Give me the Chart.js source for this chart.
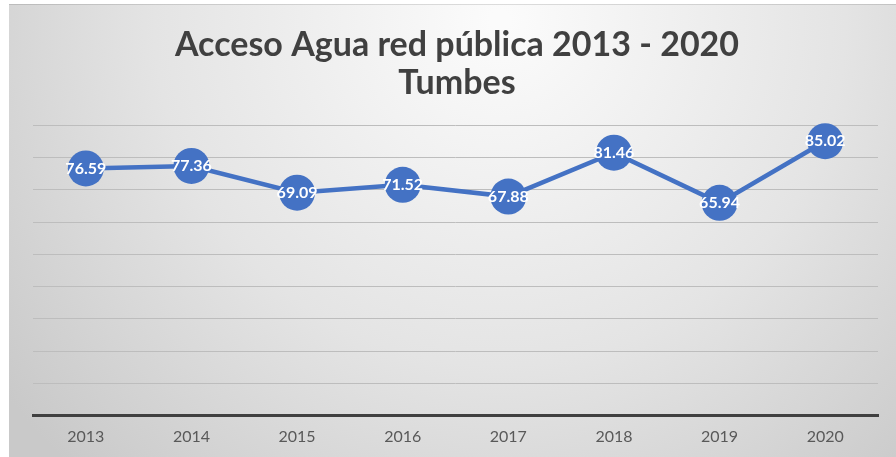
<!DOCTYPE html>
<html>
<head>
<meta charset="utf-8">
<script src="https://cdn.jsdelivr.net/npm/chart.js@4/dist/chart.umd.min.js"></script>
<style>
  html, body { margin: 0; padding: 0; background: #ffffff; }
  #wrap { width: 896px; height: 457px; position: relative; }
</style>
</head>
<body>
<div id="wrap"><canvas id="chart" width="896" height="457"></canvas></div>
<script>
// Años y porcentaje de hogares con acceso a agua por red pública (Tumbes)
const years = ["2013", "2014", "2015", "2016", "2017", "2018", "2019", "2020"];
const acceso = [76.59, 77.36, 69.09, 71.52, 67.88, 81.46, 65.94, 85.02];
const titleLines = ["Acceso Agua red pública 2013 - 2020", "Tumbes"];

const BLUE = "#4472C4";

// Fondo con degradado gris claro detrás de todo el gráfico
const backgroundPlugin = {
  id: "panelBackground",
  beforeDraw(chart) {
    const ctx = chart.ctx;
    const w = chart.width, h = chart.height;
    ctx.save();
    ctx.fillStyle = "#ffffff";
    ctx.fillRect(0, 0, w, h);
    const g = ctx.createRadialGradient(500, 20, 10, 500, 20, 620);
    g.addColorStop(0, "#fbfbfb");
    g.addColorStop(0.55, "#e4e4e4");
    g.addColorStop(1, "#c9c9c9");
    ctx.fillStyle = g;
    ctx.fillRect(9, 4, w - 9, h - 4);
    ctx.fillStyle = "rgba(0,0,0,0.12)";
    ctx.fillRect(9, 4, w - 9, 1);
    ctx.restore();
  }
};

// Etiquetas de valor en blanco, centradas sobre cada marcador
const valueLabels = {
  id: "valueLabels",
  afterDatasetsDraw(chart) {
    const ctx = chart.ctx;
    const meta = chart.getDatasetMeta(0);
    const values = chart.data.datasets[0].data;
    ctx.save();
    ctx.font = "bold 16px Lato";
    ctx.fillStyle = "#ffffff";
    ctx.textAlign = "center";
    ctx.textBaseline = "middle";
    meta.data.forEach((pt, i) => {
      ctx.fillText(values[i].toFixed(2), pt.x, pt.y);
    });
    ctx.restore();
  }
};

new Chart(document.getElementById("chart"), {
  type: "line",
  data: {
    labels: years,
    datasets: [{
      data: acceso,
      borderColor: BLUE,
      borderWidth: 4.5,
      backgroundColor: BLUE,
      pointBackgroundColor: BLUE,
      pointBorderWidth: 0,
      pointRadius: 18,
      tension: 0,
      clip: false
    }]
  },
  options: {
    responsive: false,
    animation: false,
    devicePixelRatio: 1,
    layout: { padding: { left: 33, right: 15, top: 4, bottom: 0 } },
    plugins: {
      legend: { display: false },
      tooltip: { enabled: false },
      title: {
        display: true,
        text: titleLines,
        color: "#404040",
        font: { family: "Lato", size: 34, weight: "bold", lineHeight: 1.12 },
        padding: { top: 22, bottom: 23 }
      }
    },
    scales: {
      x: {
        offset: true,
        grid: { display: false, drawTicks: false },
        border: { display: true, color: "#404040", width: 3 },
        ticks: { color: "#595959", font: { family: "Lato", size: 16 }, padding: 11 }
      },
      y: {
        min: 0,
        max: 90,
        grid: { color: "#bdbdbd", lineWidth: 1, drawTicks: false },
        border: { display: false },
        ticks: { display: false, stepSize: 10 }
      }
    }
  },
  plugins: [backgroundPlugin, valueLabels]
});
</script>
</body>
</html>
